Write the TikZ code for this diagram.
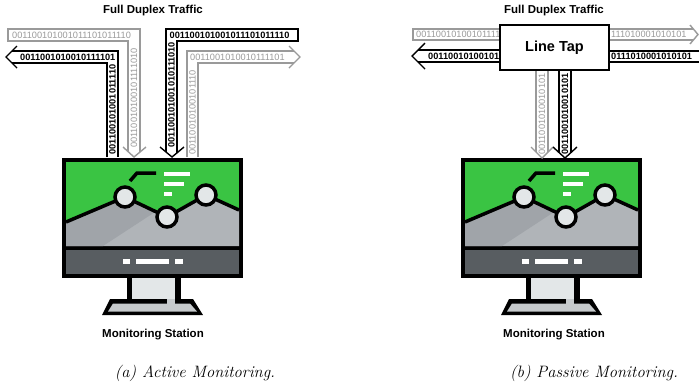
\documentclass[tikz,border=0pt]{standalone}
\usepackage{fontspec}
\newfontfamily\arialfont{Liberation Sans}

\definecolor{scrgreen}{HTML}{3AC443}
\definecolor{hillgray}{HTML}{B0B4B8}
\definecolor{hilldark}{HTML}{A0A4A9}
\definecolor{dotgray}{HTML}{E3E7E8}
\definecolor{bargray}{HTML}{585D61}
\definecolor{standgray}{HTML}{C6CACC}
\definecolor{bandgray}{HTML}{9A9A9A}

\tikzset{
  bits/.style={inner sep=0pt, anchor=west, font=\arialfont\bfseries\fontsize{9.2}{10}\selectfont},
  graybits/.style={bits, text=bandgray, font=\arialfont\fontsize{9.2}{10}\selectfont},
  band/.style={line width=1.4pt},
  grayband/.style={band, draw=bandgray},
  heading/.style={font=\arialfont\bfseries\fontsize{11.5}{13}\selectfont},
  subcap/.style={font=\itshape\fontsize{16.5}{18}\selectfont}
}

\begin{document}
\begin{tikzpicture}[x=1pt, y=-1pt]
\useasboundingbox (0,0) rectangle (699,384);
%
% two monitoring stations
\foreach \dx in {0,399} {
\begin{scope}[xshift=\dx]
\fill[black] (62,158) rectangle (243,278);
\fill[scrgreen] (66,162) rectangle (239,246);
\fill[bargray] (66,250) rectangle (239,274);
\fill[hillgray] (66,222) -- (125,197) -- (167,217) -- (206,195) -- (239,210) -- (239,246) -- (66,246) -- cycle;
\fill[hilldark] (66,222) -- (125,197) -- (155,212) -- (103,246) -- (66,246) -- cycle;
\draw[line width=3.5pt] (66,222) -- (125,197) -- (167,217) -- (206,195) -- (239,210);
\draw[line width=3.5pt] (130,181) -- (137,173) -- (156,173);
\fill[white] (164,172) rectangle (190,176);
\fill[white] (164,182) rectangle (184,186);
\fill[white] (164,192) rectangle (172,196);
\filldraw[fill=dotgray, line width=3.5pt] (125,197) circle (10);
\filldraw[fill=dotgray, line width=3.5pt] (167,217) circle (10);
\filldraw[fill=dotgray, line width=3.5pt] (206,195) circle (10);
\fill[white] (123,259) rectangle (130,264);
\fill[white] (136,259) rectangle (169,264);
\fill[white] (175,259) rectangle (183,264);
% stand
\fill[black] (110,299) -- (193,299) -- (203,315) -- (102,315) -- cycle;
\fill[standgray] (113,303.5) -- (190,303.5) -- (197,311.5) -- (108,311.5) -- cycle;
\fill[black] (127,278) rectangle (181,299);
\fill[dotgray] (132,278) rectangle (175,299);
\fill[standgray] (167,299) rectangle (175,303.5);
\end{scope}
}
%
% active: traffic passes through the station
\draw[grayband] (123,147) -- (134,157) -- (146,147);
\draw[grayband] (128,151.5) -- (128,41) -- (8,41) -- (8,29) -- (140,29) -- (140,152);
\node[graybits] (inl) at (12,35) {001100101001011101011110};
\node[graybits, rotate=90] (inlv) at (134,148) {00110010100101111010};
%
\draw[band] (17,46) -- (6,57) -- (17,68);
\draw[band] (107,157) -- (107,63) -- (12,63);
\draw[band] (12,51) -- (118,51) -- (118,157);
\node[bits] (outl) at (20,57) {0011001010010111101};
\node[bits, rotate=90] (outlv) at (112.5,155) {001100101001011110};
%
\draw[band] (160,147) -- (172,157) -- (184,147);
\draw[band] (166,152) -- (166,29) -- (298,29) -- (298,41) -- (177,41) -- (177,152.8);
\node[bits] (inr) at (169.5,35) {001100101001011101011110};
\node[bits, rotate=90] (inrv) at (171.5,148) {001100101001010111010};
%
\draw[grayband] (289,46) -- (300,57) -- (289,68);
\draw[grayband] (187,157) -- (187,51) -- (294,51);
\draw[grayband] (198,157) -- (198,63) -- (294,63);
\node[graybits] (outr) at (190,57) {0011001010010111101};
\node[graybits, rotate=90] (outrv) at (192.5,155) {00110010100101110};
%
% passive: a line tap copies both directions
\draw[grayband] (500,29) -- (413,29) -- (413,40) -- (500,40);
\node[graybits] (tapinl) at (416,34.5) {001100101001011110};
\draw[band] (425,43) -- (412,56) -- (425,69);
\draw[band] (500,50) -- (418,50);
\draw[band] (500,62) -- (418,62);
\node[bits] (tapoutl) at (428,56) {0011001010010101};
%
\draw[grayband] (690,25) -- (698,34.5) -- (690,44);
\draw[grayband] (609,29) -- (693.4,29);
\draw[grayband] (609,40) -- (693.4,40);
\node[graybits] (tapinr) at (611,34.5) {111010001010101};
\draw[band] (609,51) -- (700,51);
\draw[band] (609,62) -- (700,62);
\node[bits] (tapoutr) at (611,56.5) {0111010001010101};
%
\draw[grayband] (531,147) -- (542,158) -- (553,147);
\draw[grayband] (536,70) -- (536,152);
\draw[grayband] (548,70) -- (548,152);
\node[graybits, rotate=90] (copya) at (542,155) {0011001010010101};
\draw[band] (553,147) -- (565,158) -- (577,147);
\draw[band] (559,70) -- (559,152.5);
\draw[band] (571,70) -- (571,152.5);
\node[bits, rotate=90] (copyb) at (565,155) {0011001010010101};
%
\node[draw, fill=white, line width=1.2pt, minimum width=109pt, minimum height=45pt,
  font=\arialfont\bfseries\fontsize{14.5}{16}\selectfont] (tap) at (554.5,47.5) {Line Tap};
%
\node[heading] (trafa) at (153,11) {Full Duplex Traffic};
\node[heading] (trafb) at (554,11) {Full Duplex Traffic};
\node[heading] (stata) at (153,335) {Monitoring Station};
\node[heading] (statb) at (554,335) {Monitoring Station};
\node[subcap] (capa) at (195,373) {(a) Active Monitoring.};
\node[subcap] (capb) at (594,373) {(b) Passive Monitoring.};
\end{tikzpicture}
\end{document}
